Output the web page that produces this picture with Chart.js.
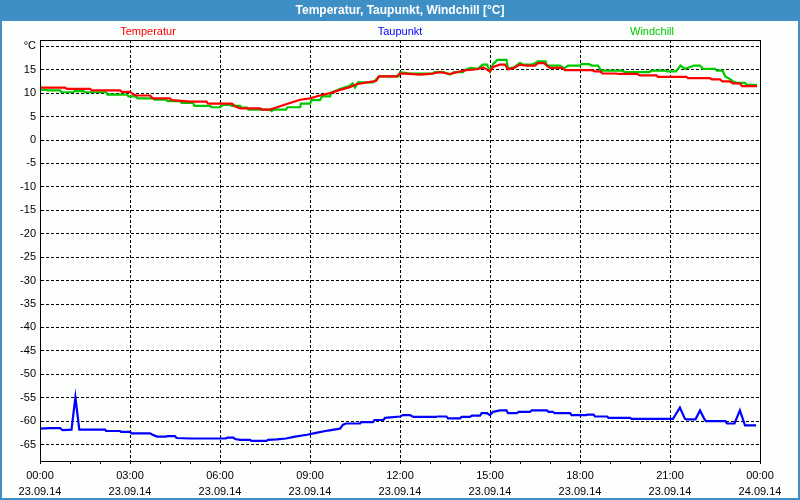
<!DOCTYPE html>
<html>
<head>
<meta charset="utf-8">
<script src="https://cdn.jsdelivr.net/npm/chart.js@4.4.1/dist/chart.umd.min.js"></script>
<style>
  html, body { margin: 0; padding: 0; background: #fbfefb; }
  #wrap { width: 800px; height: 500px; position: relative; }
</style>
</head>
<body>
<div id="wrap"><canvas id="c" width="800" height="500"></canvas></div>
<script>
// ---- Chart text ----
const chartTitle = 'Temperatur, Taupunkt, Windchill [°C]';
const seriesNames = ['Temperatur', 'Taupunkt', 'Windchill'];
const xTimeLabels = ['00:00','03:00','06:00','09:00','12:00','15:00','18:00','21:00','00:00'];
const xDateLabels = ['23.09.14','23.09.14','23.09.14','23.09.14','23.09.14','23.09.14','23.09.14','23.09.14','24.09.14'];
const yUnitLabel = '°C';

// ---- Temperatur (hours since 00:00, °C) ----
const tempHours = [
  0,0.83,0.9,1.67,1.73,2.67,2.73,3.0,3.1,3.22,
  3.67,3.75,4.33,4.4,5.0,5.55,5.6,6.4,6.5,6.67,
  7.33,7.4,7.67,8.0,8.33,8.67,9.0,9.33,9.67,10.0,
  10.33,10.55,11.0,11.2,11.3,11.9,12.0,12.33,12.67,13.0,
  13.33,13.67,13.9,14.2,14.56,14.78,15.0,15.1,15.33,15.5,
  15.6,15.8,16.0,16.2,16.5,16.6,16.8,16.9,17.0,17.4,
  17.5,18.4,18.5,18.67,18.75,19.2,19.3,19.9,20.0,20.55,
  20.6,21.55,21.6,22.33,22.4,22.67,22.75,23.0,23.1,23.33,
  23.4,23.9
];
const tempValues = [
  11.2,11.2,10.9,10.9,10.6,10.6,10.3,10.3,9.75,9.5,
  9.5,8.9,8.9,8.5,8.2,8.2,7.75,7.75,7.2,6.75,
  6.75,6.5,6.5,7.2,7.9,8.6,8.9,9.5,10.0,10.7,
  11.3,11.9,12.4,12.6,13.6,13.6,14.2,14.1,13.95,14.1,
  14.5,14.1,14.5,14.9,15.1,15.5,14.65,15.6,16.1,16.1,
  15.1,15.4,16.1,15.9,15.9,16.4,16.4,15.9,15.4,15.4,
  14.9,14.9,14.65,14.65,14.2,14.2,14.1,14.1,13.8,13.8,
  13.5,13.5,13.2,13.2,12.95,12.95,12.5,12.5,12.1,12.1,
  11.5,11.5
];

// ---- Taupunkt ----
const dewHours = [
  0,0.33,0.67,0.75,1.05,1.18,1.31,2.17,2.2,2.67,
  2.7,3.0,3.05,3.67,3.75,3.9,4.2,4.25,4.5,4.55,
  5.0,6.2,6.25,6.45,6.5,6.67,7.0,7.05,7.55,7.6,
  7.9,8.2,8.5,8.9,9.2,9.6,10.0,10.1,10.2,10.67,
  10.7,11.1,11.15,11.45,11.5,12.0,12.1,12.33,12.45,13.2,
  13.25,13.55,13.6,14.0,14.05,14.33,14.4,14.67,14.72,14.9,
  15.0,15.1,15.33,15.55,15.6,15.9,15.95,16.33,16.4,16.9,
  16.95,17.1,17.15,17.67,17.72,18.2,18.25,18.45,18.5,18.9,
  18.95,19.67,19.72,21.1,21.33,21.5,21.55,21.85,22.0,22.15,
  22.2,22.85,22.9,23.15,23.33,23.5,23.87
];
const dewValues = [
  -61.6,-61.5,-61.5,-61.9,-61.8,-54.9,-61.8,-61.8,-62.1,-62.1,
  -62.3,-62.3,-62.6,-62.6,-62.9,-63.3,-63.3,-63.2,-63.2,-63.6,
  -63.7,-63.7,-63.5,-63.5,-63.8,-64.0,-64.0,-64.2,-64.2,-64.0,
  -63.9,-63.7,-63.3,-62.9,-62.5,-62.0,-61.6,-60.75,-60.5,-60.5,
  -60.2,-60.2,-59.75,-59.75,-59.3,-59.0,-58.7,-58.7,-59.1,-59.1,
  -59.0,-59.0,-59.4,-59.4,-59.1,-59.1,-58.8,-58.8,-58.3,-58.3,
  -58.7,-58.0,-57.7,-57.7,-58.3,-58.3,-58.0,-58.0,-57.7,-57.7,
  -58.0,-58.0,-58.3,-58.3,-58.7,-58.7,-58.6,-58.6,-59.0,-59.0,
  -59.3,-59.3,-59.5,-59.5,-57.1,-59.5,-59.6,-59.6,-57.7,-59.6,
  -60.0,-60.0,-60.5,-60.5,-57.7,-60.9,-60.9
];

// ---- Windchill ----
const chillHours = [
  0,0.22,0.25,0.67,0.72,1.1,1.15,1.45,1.5,2.2,
  2.25,2.9,2.95,3.2,3.25,3.78,3.82,4.2,4.25,4.67,
  4.72,5.1,5.15,5.67,5.72,6.0,6.1,6.33,6.4,6.67,
  6.72,6.9,6.95,7.67,7.72,7.78,8.2,8.25,8.67,8.7,
  9.0,9.05,9.33,9.4,9.67,9.72,10.0,10.33,10.42,10.5,
  10.6,11.1,11.2,11.3,11.95,12.0,12.33,13.1,13.15,13.45,
  13.67,13.8,14.1,14.15,14.35,14.6,14.75,14.9,15.0,15.1,
  15.25,15.55,15.6,15.8,16.0,16.1,16.4,16.5,16.6,16.85,
  16.9,17.33,17.4,17.45,17.6,18.0,18.05,18.3,18.4,18.6,
  18.7,19.4,19.5,20.3,20.4,20.85,20.9,21.2,21.35,21.5,
  21.67,21.8,22.0,22.1,22.5,22.56,22.75,22.85,23.0,23.1,
  23.22,23.5,23.56,23.9
];
const chillValues = [
  10.7,10.7,10.6,10.6,10.2,10.2,10.45,10.45,10.2,10.2,
  9.7,9.7,9.3,9.3,8.9,8.9,8.6,8.6,8.3,8.3,
  7.9,7.9,7.3,7.3,7.0,7.0,7.5,7.5,7.3,7.3,
  6.9,6.9,6.5,6.5,6.2,6.5,6.5,7.0,7.0,7.75,
  7.75,8.5,8.5,9.3,9.3,10.2,10.9,11.6,12.1,11.2,
  12.3,12.3,12.9,13.6,13.6,14.5,14.2,14.2,14.5,14.5,
  14.0,14.5,14.5,14.9,15.4,15.2,16.1,16.1,14.65,16.2,
  17.1,17.1,15.2,15.5,16.5,16.1,16.1,16.4,16.8,16.8,
  15.9,15.9,15.6,15.2,15.9,15.9,16.2,16.2,15.9,15.9,
  14.8,14.8,14.5,14.5,14.8,14.8,14.65,14.65,15.9,15.2,
  15.6,15.9,15.9,15.2,15.2,14.8,14.8,13.5,13.0,12.5,
  12.2,12.2,11.8,11.8
];

const seriesColors = ['#ff0000', '#0000ff', '#00c800'];

function pts(hs, vs) { return hs.map((h, i) => ({ x: h, y: vs[i] })); }

const BG = '#fbfefb';
const BAR = '#3d8fc6';
const FONT = "'Liberation Sans', Arial, sans-serif";

const framePlugin = {
  id: 'frame',
  beforeDraw(chart) {
    const c = chart.ctx, W = chart.width, H = chart.height;
    c.save();
    c.fillStyle = BG; c.fillRect(0, 0, W, H);
    c.fillStyle = BAR;
    c.fillRect(0, 0, W, 21);
    c.fillRect(0, 0, 2, H);
    c.fillRect(W - 2, 0, 2, H);
    c.fillRect(0, H - 2, W, 2);
    c.fillStyle = '#ffffff';
    c.font = 'bold 12px ' + FONT;
    c.textAlign = 'center'; c.textBaseline = 'middle';
    c.fillText(chartTitle, W / 2, 11);
    c.restore();
  },
  afterDraw(chart) {
    const c = chart.ctx, a = chart.chartArea;
    c.save();
    c.setLineDash([]);
    c.strokeStyle = '#000'; c.lineWidth = 1;
    c.strokeRect(Math.round(a.left) + 0.5, Math.round(a.top) + 0.5, Math.round(a.right - a.left), Math.round(a.bottom - a.top));
    c.font = '11px ' + FONT;
    c.textAlign = 'center'; c.textBaseline = 'middle';
    const fr = [0.15, 0.5, 0.85];
    chart.data.datasets.forEach((ds, i) => {
      c.fillStyle = ds.borderColor;
      c.fillText(ds.label, a.left + (a.right - a.left) * fr[i], 32);
    });
    c.restore();
  }
};

new Chart(document.getElementById('c'), {
  type: 'line',
  data: {
    datasets: [
      { label: seriesNames[0], data: pts(tempHours, tempValues), borderColor: seriesColors[0] },
      { label: seriesNames[1], data: pts(dewHours, dewValues), borderColor: seriesColors[1] },
      { label: seriesNames[2], data: pts(chillHours, chillValues), borderColor: seriesColors[2] }
    ]
  },
  options: {
    responsive: false,
    animation: false,
    events: [],
    parsing: false,
    elements: {
      line: { borderWidth: 2.2, tension: 0, fill: false },
      point: { radius: 0 }
    },
    layout: { padding: { top: 40, left: 0, right: 40, bottom: 0 } },
    plugins: { legend: { display: false }, title: { display: false }, tooltip: { enabled: false } },
    scales: {
      x: {
        type: 'linear', min: 0, max: 24,
        afterFit(s) { s.height = 39; },
        border: { display: true, color: '#000', width: 1, dash: [3, 2] },
        grid: {
          color: (ctx) => (ctx.tick && ctx.tick.value % 3 === 0) ? '#000' : 'rgba(0,0,0,0)',
          tickColor: '#000',
          tickLength: 3,
          drawTicks: true,
          lineWidth: 1,
          tickBorderDash: []
        },
        ticks: {
          stepSize: 1, autoSkip: false, maxRotation: 0, minRotation: 0,
          padding: 4, color: '#000',
          font: { family: FONT, size: 11, lineHeight: 1.45 },
          callback: (v) => (v % 3 === 0) ? [xTimeLabels[v / 3], xDateLabels[v / 3]] : ''
        }
      },
      y: {
        type: 'linear', min: -68.5, max: 21.35,
        afterFit(s) { s.width = 40; },
        border: { display: true, color: '#000', width: 1, dash: [3, 2] },
        grid: { color: '#000', drawTicks: false, lineWidth: 1 },
        ticks: {
          stepSize: 5, includeBounds: false, padding: 4, color: '#000',
          font: { family: FONT, size: 11 },
          callback: (v) => (v === 20 ? yUnitLabel : String(v))
        }
      }
    }
  },
  plugins: [framePlugin]
});
</script>
</body>
</html>
